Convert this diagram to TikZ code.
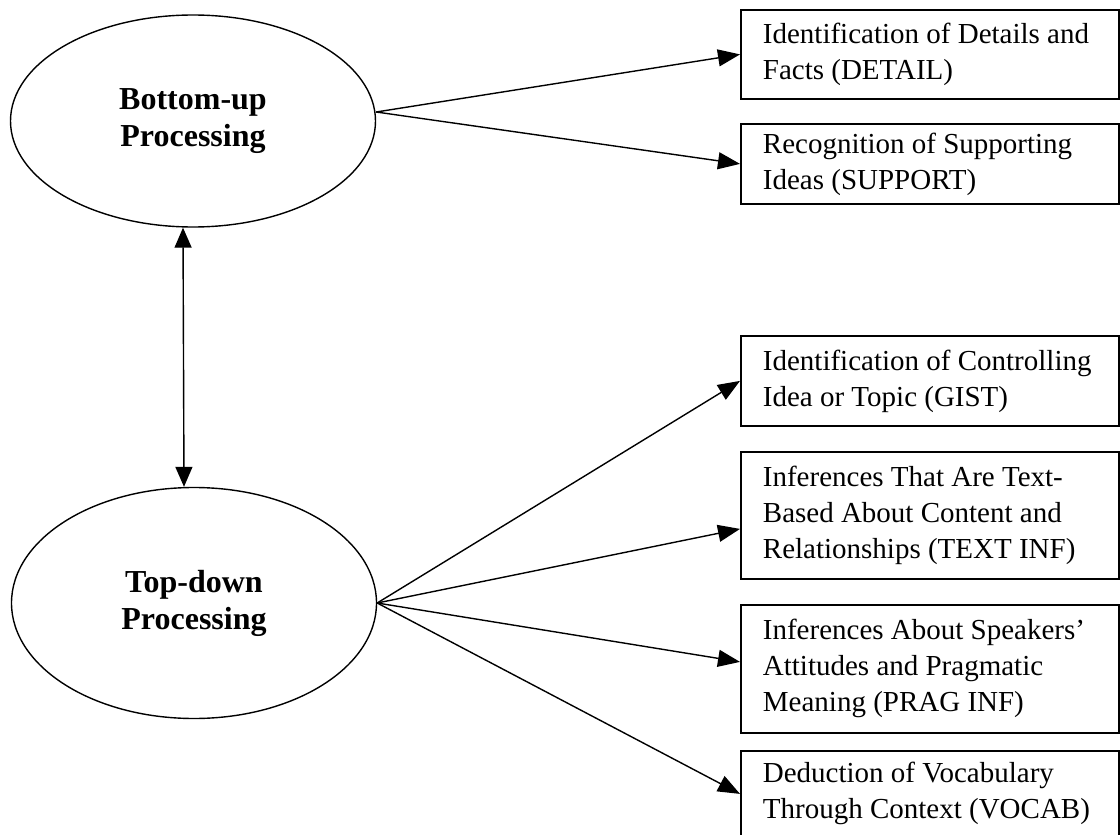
\documentclass[tikz,border=0pt]{standalone}
\usepackage{fontspec}
\setmainfont{Liberation Serif}
\usetikzlibrary{shapes.geometric}
\usetikzlibrary{arrows.meta}

\tikzset{
  proc/.style={draw, line width=1.4pt, ellipse, minimum width=365pt, inner sep=0pt, align=center, font=\fontsize{32}{37}\selectfont\bfseries},
  skill/.style={draw, line width=1.8pt, rectangle, anchor=north west, minimum width=378pt, text width=334pt, inner xsep=22pt, inner ysep=0pt, align=flush left, font=\fontsize{29}{36}\selectfont},
  link/.style={line width=1.4pt, -{Triangle[length=22pt,width=17pt]}}
}

\begin{document}
\begin{tikzpicture}[x=1pt,y=-1pt]
\useasboundingbox (0,0) rectangle (1120,835);
\node[proc, minimum height=212pt] (bu) at (193,121) {Bottom-up\\Processing};
\node[proc, minimum height=231pt] (td) at (194,603) {Top-down\\Processing};
\node[skill, minimum height=89pt] (detail) at (740,9) {Identification of Details and\\Facts (DETAIL)};
\node[skill, minimum height=80pt] (support) at (740,123) {Recognition of Supporting\\Ideas (SUPPORT)};
\node[skill, minimum height=90pt] (gist) at (740,335) {Identification of Controlling\\Idea or Topic (GIST)};
\node[skill, minimum height=127pt] (textinf) at (740,451) {Inferences That Are Text-\\Based About Content and\\Relationships (TEXT INF)};
\node[skill, minimum height=128pt] (praginf) at (740,604) {Inferences About Speakers’\\Attitudes and Pragmatic\\Meaning (PRAG INF)};
\node[skill, minimum height=86pt] (vocab) at (740,750) {Deduction of Vocabulary\\Through Context (VOCAB)};
\draw[link] ([yshift=9pt]bu.east) -- (detail.west);
\draw[link] ([yshift=9pt]bu.east) -- (support.west);
\draw[link] (td.east) -- (gist.west);
\draw[link] (td.east) -- ([yshift=-13.5pt]textinf.west);
\draw[link] (td.east) -- ([yshift=7pt]praginf.west);
\draw[link] (td.east) -- (vocab.west);
\draw[line width=1.4pt, {Triangle[length=20pt,width=17pt]}-{Triangle[length=20pt,width=17pt]}] ([xshift=-10pt]bu.south) -- ([xshift=-10pt]td.north);
\end{tikzpicture}
\end{document}
